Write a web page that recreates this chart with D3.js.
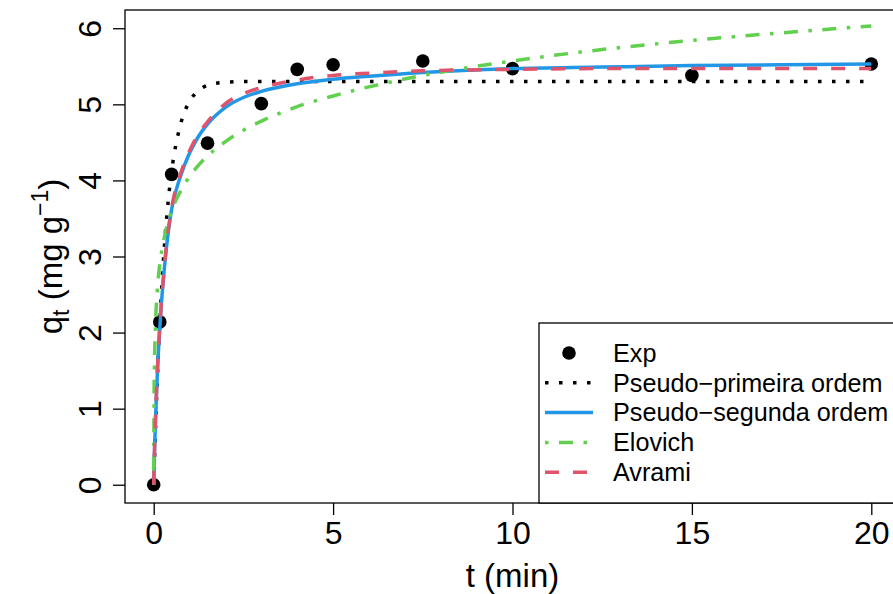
<!DOCTYPE html>
<html>
<head>
<meta charset="utf-8">
<script src="https://cdn.jsdelivr.net/npm/d3@7"></script>
<style>
  html, body { margin: 0; padding: 0; background: #fff; }
  svg { display: block; font-family: "Liberation Sans", Arial, Helvetica, sans-serif; }
</style>
</head>
<body>
<svg id="chart" width="893" height="594"></svg>
<script>
// Experimental adsorption kinetics: time (min) and uptake q_t (mg/g)
const timeExp = [0, 0.17, 0.5, 1.5, 3, 4, 5, 7.5, 10, 15, 20];
const qExp    = [0, 2.14, 4.08, 4.49, 5.01, 5.46, 5.52, 5.57, 5.47, 5.38, 5.53];

// Time points at which the fitted kinetic models are drawn
const timeFit = [0, 0.01, 0.02, 0.05, 0.1, 0.2, 0.3, 0.4, 0.5, 0.75, 1, 1.25, 1.5, 2, 2.5, 3, 4, 5, 6, 7.5, 10, 12.5, 15, 17.5, 20];

// Fitted model curves (q_t, mg/g)
const qPseudo1 = [0, 0.16, 0.31, 0.74, 1.38, 2.40, 3.15, 3.71, 4.12, 4.74, 5.04, 5.18, 5.25, 5.29, 5.30, 5.30, 5.30, 5.30, 5.30, 5.30, 5.30, 5.30, 5.30, 5.30, 5.30];
const qPseudo2 = [0, 0.20, 0.39, 0.85, 1.45, 2.28, 2.86, 3.30, 3.62, 4.06, 4.36, 4.58, 4.74, 4.96, 5.09, 5.17, 5.27, 5.33, 5.37, 5.42, 5.47, 5.49, 5.51, 5.52, 5.53];
const qElovich = [0, 1.14, 1.54, 2.10, 2.55, 3.00, 3.26, 3.45, 3.60, 3.86, 4.05, 4.20, 4.32, 4.51, 4.66, 4.78, 4.97, 5.11, 5.23, 5.38, 5.57, 5.72, 5.84, 5.94, 6.03];
const qAvrami  = [0, 0.20, 0.40, 0.88, 1.48, 2.30, 2.88, 3.32, 3.64, 4.09, 4.39, 4.61, 4.77, 5.01, 5.14, 5.22, 5.32, 5.38, 5.41, 5.44, 5.46, 5.47, 5.47, 5.47, 5.47];

// Axis ticks and labels
const xTicks = [0, 5, 10, 15, 20];
const yTicks = [0, 1, 2, 3, 4, 5, 6];
const xTitle = "t (min)";

// Legend entries
const legendLabels = ["Exp", "Pseudo\u2212primeira ordem", "Pseudo\u2212segunda ordem", "Elovich", "Avrami"];

const svg = d3.select("#chart");

// Plot region
const plot = { left: 125, top: 10, right: 900, bottom: 503 };

const x = d3.scaleLinear().domain([-0.8, 20.8]).range([plot.left, plot.right]);
const y = d3.scaleLinear().domain([-0.24, 6.24]).range([plot.bottom, plot.top]);

const lw = 3.5;
const models = [
  { values: qPseudo1, color: "#000000", dash: `${lw},${lw * 3}` },
  { values: qPseudo2, color: "#2297E6", dash: null },
  { values: qElovich, color: "#61D04F", dash: `${lw},${lw * 3},${lw * 4},${lw * 3}` },
  { values: qAvrami,  color: "#DF536B", dash: `${lw * 4},${lw * 4}` }
];

// Clip everything drawn inside the plot box
svg.append("defs").append("clipPath").attr("id", "plot-clip")
  .append("rect")
  .attr("x", plot.left).attr("y", plot.top)
  .attr("width", plot.right - plot.left).attr("height", plot.bottom - plot.top);

const inner = svg.append("g").attr("clip-path", "url(#plot-clip)");

// Experimental points
inner.append("g").selectAll("circle")
  .data(timeExp.map((t, i) => [t, qExp[i]]))
  .join("circle")
  .attr("cx", d => x(d[0]))
  .attr("cy", d => y(d[1]))
  .attr("r", 6.8)
  .attr("fill", "#000");

// Model curves
const line = d3.line()
  .x(d => x(d[0]))
  .y(d => y(d[1]))
  .curve(d3.curveMonotoneX);

models.forEach(m => {
  inner.append("path")
    .datum(timeFit.map((t, i) => [t, m.values[i]]))
    .attr("d", line)
    .attr("fill", "none")
    .attr("stroke", m.color)
    .attr("stroke-width", lw)
    .attr("stroke-linecap", "butt")
    .attr("stroke-dasharray", m.dash);
});

// Axes
const xAxis = svg.append("g")
  .attr("transform", `translate(0,${plot.bottom})`)
  .call(d3.axisBottom(x).tickValues(xTicks).tickFormat(d3.format("d")).tickSize(12).tickPadding(6).tickSizeOuter(0));
xAxis.select(".domain").remove();
xAxis.selectAll("line").attr("stroke", "#000").attr("stroke-width", 1.3);
xAxis.selectAll("text")
  .attr("font-size", 32)
  .attr("fill", "#000")
  .attr("font-family", "Liberation Sans, Arial, sans-serif")
  .attr("dy", "0.71em");

const yAxis = svg.append("g")
  .attr("transform", `translate(${plot.left},0)`)
  .call(d3.axisLeft(y).tickValues(yTicks).tickFormat(d3.format("d")).tickSize(12).tickSizeOuter(0));
yAxis.select(".domain").remove();
yAxis.selectAll("line").attr("stroke", "#000").attr("stroke-width", 1.3);
yAxis.selectAll("text")
  .attr("font-size", 32)
  .attr("fill", "#000")
  .attr("font-family", "Liberation Sans, Arial, sans-serif")
  .attr("x", null).attr("dy", null)
  .attr("text-anchor", "middle")
  .attr("transform", "translate(-24,0) rotate(-90)");

// Plot frame
svg.append("rect")
  .attr("x", plot.left).attr("y", plot.top)
  .attr("width", plot.right - plot.left).attr("height", plot.bottom - plot.top)
  .attr("fill", "none").attr("stroke", "#000").attr("stroke-width", 1.3);

// Axis titles
svg.append("text")
  .attr("x", (plot.left + plot.right) / 2)
  .attr("y", 587)
  .attr("text-anchor", "middle")
  .attr("font-size", 33)
  .text(xTitle);

const yTitle = svg.append("text")
  .attr("transform", `translate(62,${(plot.top + plot.bottom) / 2}) rotate(-90)`)
  .attr("text-anchor", "middle")
  .attr("font-size", 33);
yTitle.append("tspan").text("q");
yTitle.append("tspan").attr("font-size", 23).attr("dy", 7).text("t");
yTitle.append("tspan").attr("dy", -7).text(" (mg g");
yTitle.append("tspan").attr("font-size", 23).attr("dy", -14).text("\u22121");
yTitle.append("tspan").attr("dy", 14).text(")");

// Legend
const legend = { left: 539, top: 323, rowY0: 353, rowStep: 29.8 };
svg.append("rect")
  .attr("x", legend.left).attr("y", legend.top)
  .attr("width", 400).attr("height", plot.bottom - legend.top)
  .attr("fill", "#fff").attr("stroke", "#000").attr("stroke-width", 1.3);

const lg = svg.append("g");
legendLabels.forEach((label, i) => {
  const ry = legend.rowY0 + i * legend.rowStep;
  if (i === 0) {
    lg.append("circle").attr("cx", 569).attr("cy", ry).attr("r", 6.8).attr("fill", "#000");
  } else {
    const m = models[i - 1];
    lg.append("line")
      .attr("x1", 545).attr("x2", 593).attr("y1", ry).attr("y2", ry)
      .attr("stroke", m.color).attr("stroke-width", lw)
      .attr("stroke-dasharray", m.dash);
  }
  lg.append("text")
    .attr("x", 613).attr("y", ry)
    .attr("dy", "0.35em")
    .attr("font-size", 25.2)
    .text(label);
});
</script>
</body>
</html>
